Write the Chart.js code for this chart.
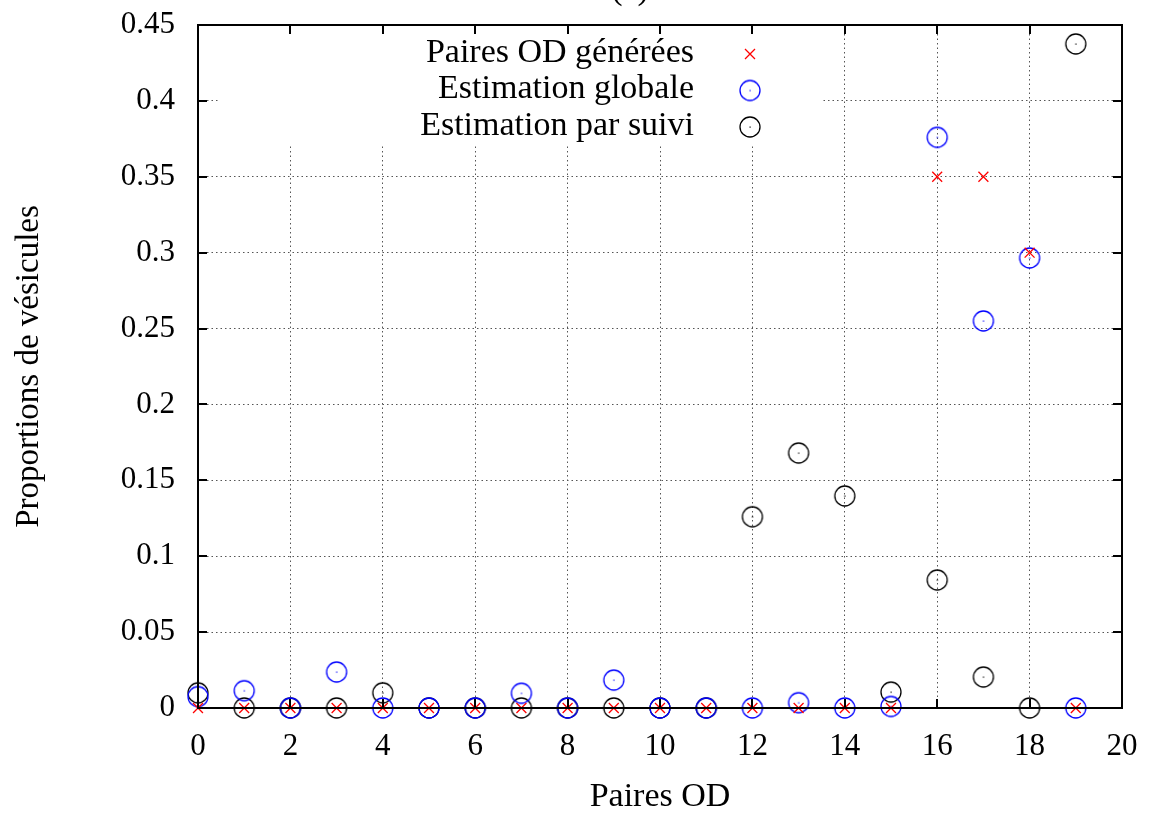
<!DOCTYPE html>
<html>
<head>
<meta charset="utf-8">
<script src="https://cdn.jsdelivr.net/npm/chart.js@4/dist/chart.umd.min.js"></script>
<style>
  html, body { margin: 0; padding: 0; background: #fff; }
  #wrap { width: 1149px; height: 813px; position: relative; }
</style>
</head>
<body>
<div id="wrap"><canvas id="myChart" width="1149" height="813"></canvas></div>
<script>
// data
var pairs = [0, 1, 2, 3, 4, 5, 6, 7, 8, 9, 10, 11, 12, 13, 14, 15, 16, 17, 18, 19];
var generees = [0, 0, 0, 0, 0, 0, 0, 0, 0, 0, 0, 0, 0, 0, 0, 0, 0.35, 0.35, 0.30, 0];
var globale = [0.0075, 0.0114, 0, 0.0237, 0, 0, 0, 0.0097, 0, 0.0184, 0, 0, 0, 0.0035, 0, 0.001, 0.376, 0.255, 0.2965, 0];
var suivi = [0.010, 0, 0, 0, 0.010, 0, 0, 0, 0, 0, 0, 0, 0.126, 0.168, 0.1397, 0.0105, 0.0843, 0.0204, 0, 0.4375];
var seriesNames = ["Paires OD générées", "Estimation globale", "Estimation par suivi"];
var xTicks = [0, 2, 4, 6, 8, 10, 12, 14, 16, 18, 20];
var yTicks = [0, 0.05, 0.1, 0.15, 0.2, 0.25, 0.3, 0.35, 0.4, 0.45];
var yTickLabels = ["0", "0.05", "0.1", "0.15", "0.2", "0.25", "0.3", "0.35", "0.4", "0.45"];

var FONT = "'Liberation Serif', 'Times New Roman', serif";

function toPoints(ys) {
  return pairs.map(function (x, i) { return { x: x, y: ys[i] }; });
}

// gnuplot style circle with a dot in the middle
function circleMarker(color) {
  var c = document.createElement('canvas');
  c.width = 24; c.height = 24;
  var g = c.getContext('2d');
  g.strokeStyle = color;
  g.lineWidth = 1.3;
  g.beginPath();
  g.arc(12, 12, 10, 0, Math.PI * 2);
  g.stroke();
  g.fillStyle = color;
  g.fillRect(11.5, 11.5, 1.2, 1.2);
  return c;
}

var blueCircle = circleMarker('#0000ff');
var blackCircle = circleMarker('#000000');

// white patch behind the key, grid is not drawn there
var keyMask = {
  id: 'keyMask',
  beforeDatasetsDraw: function (chart) {
    var ctx = chart.ctx;
    ctx.save();
    ctx.fillStyle = '#fff';
    ctx.fillRect(220, 27, 601, 118);
    ctx.restore();
  }
};

// border box, inward ticks, key and the cut title
var frame = {
  id: 'frame',
  afterDraw: function (chart) {
    var ctx = chart.ctx;
    var a = chart.chartArea;
    var xs = chart.scales.x, ys = chart.scales.y;
    ctx.save();
    ctx.strokeStyle = '#000';
    ctx.lineWidth = 2;
    ctx.strokeRect(a.left, a.top, a.right - a.left, a.bottom - a.top);
    ctx.beginPath();
    xTicks.forEach(function (v) {
      var px = Math.round(xs.getPixelForValue(v));
      ctx.moveTo(px, a.bottom); ctx.lineTo(px, a.bottom - 9);
      ctx.moveTo(px, a.top); ctx.lineTo(px, a.top + 9);
    });
    yTicks.forEach(function (v) {
      var py = Math.round(ys.getPixelForValue(v));
      ctx.moveTo(a.left, py); ctx.lineTo(a.left + 9, py);
      ctx.moveTo(a.right, py); ctx.lineTo(a.right - 9, py);
    });
    ctx.stroke();

    // key
    ctx.font = '34px ' + FONT;
    ctx.fillStyle = '#000';
    ctx.textAlign = 'right';
    ctx.textBaseline = 'middle';
    var rows = [54, 90.5, 127];
    chart.data.datasets.forEach(function (ds, i) {
      ctx.fillText(ds.label, 694, rows[i] - 1);
      if (ds.pointStyle === 'crossRot') {
        ctx.strokeStyle = ds.borderColor;
        ctx.lineWidth = 1.3;
        ctx.beginPath();
        ctx.moveTo(745, rows[i] - 5); ctx.lineTo(755, rows[i] + 5);
        ctx.moveTo(745, rows[i] + 5); ctx.lineTo(755, rows[i] - 5);
        ctx.stroke();
      } else {
        ctx.drawImage(ds.pointStyle, 750 - 12, rows[i] - 12);
      }
    });

    // title "(a)", mostly above the page
    ctx.textAlign = 'center';
    ctx.textBaseline = 'alphabetic';
    ctx.fillText('(a)', 630, -1);
    ctx.restore();
  }
};

var ctx = document.getElementById('myChart').getContext('2d');
var myChart = new Chart(ctx, {
  type: 'scatter',
  data: {
    datasets: [{
      label: seriesNames[0],
      data: toPoints(generees),
      pointStyle: 'crossRot',
      pointRadius: 7,
      pointHoverRadius: 7,
      borderColor: '#ff0000',
      backgroundColor: '#ff0000',
      borderWidth: 1.3,
      clip: false
    }, {
      label: seriesNames[1],
      data: toPoints(globale),
      pointStyle: blueCircle,
      borderColor: '#0000ff',
      clip: false
    }, {
      label: seriesNames[2],
      data: toPoints(suivi),
      pointStyle: blackCircle,
      borderColor: '#000000',
      clip: false
    }]
  },
  options: {
    responsive: false,
    animation: false,
    events: [],
    layout: { padding: { left: 0, top: 25, right: 27, bottom: 0 } },
    plugins: {
      legend: { display: false },
      tooltip: { enabled: false },
      title: { display: false }
    },
    scales: {
      x: {
        type: 'linear',
        min: 0,
        max: 20,
        afterBuildTicks: function (s) { s.ticks = xTicks.map(function (v) { return { value: v }; }); },
        afterFit: function (s) { s.height = 105; s.paddingLeft = 0; s.paddingRight = 0; },
        grid: { color: '#555', lineWidth: 1, drawTicks: false },
        border: { display: false, dash: [1.5, 3] },
        ticks: {
          padding: 20,
          color: '#000',
          font: { family: FONT, size: 31 },
          maxRotation: 0
        },
        title: {
          display: true,
          text: 'Paires OD',
          color: '#000',
          font: { family: FONT, size: 34 },
          padding: { top: 0, bottom: -4 }
        }
      },
      y: {
        min: 0,
        max: 0.45,
        afterBuildTicks: function (s) { s.ticks = yTicks.map(function (v) { return { value: v }; }); },
        afterFit: function (s) { s.width = 198; s.paddingTop = 0; s.paddingBottom = 0; },
        grid: { color: '#555', lineWidth: 1, drawTicks: false },
        border: { display: false, dash: [1.5, 3] },
        ticks: {
          padding: 23,
          color: '#000',
          font: { family: FONT, size: 31 },
          callback: function (v, i) { return yTickLabels[i]; }
        },
        title: {
          display: true,
          text: 'Proportions de vésicules',
          color: '#000',
          font: { family: FONT, size: 33 },
          padding: { top: 10, bottom: 0 }
        }
      }
    }
  },
  plugins: [keyMask, frame]
});
</script>
</body>
</html>
